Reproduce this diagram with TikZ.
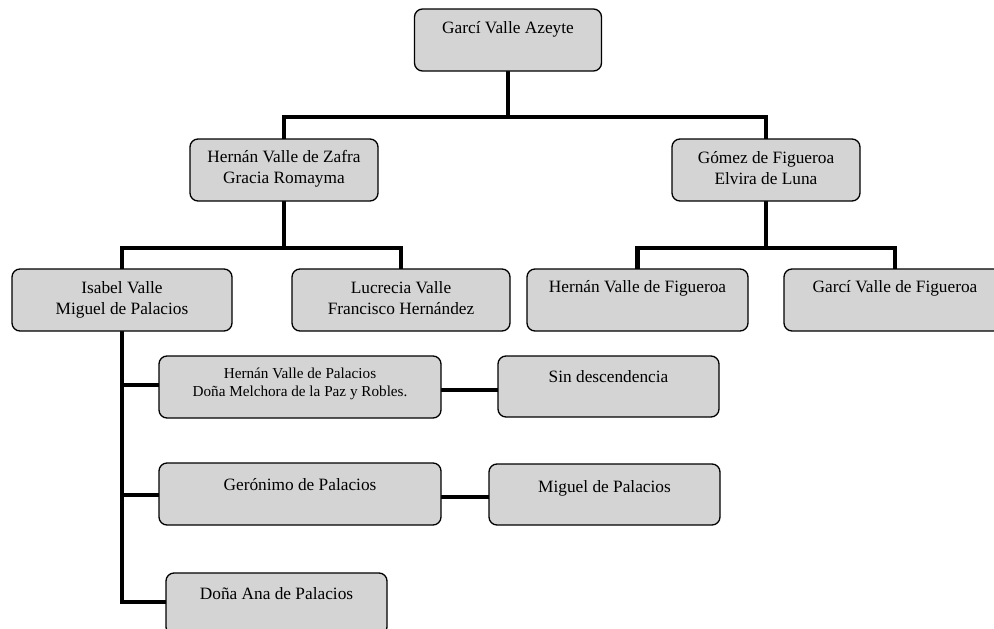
\documentclass[tikz,border=0pt]{standalone}
\usepackage{fontspec}
\setmainfont{Liberation Serif}
\usetikzlibrary{backgrounds}
\definecolor{boxgray}{HTML}{D4D4D4}
\tikzset{
  famBox/.style={draw=black, line width=1.3pt, fill=boxgray, rounded corners=8pt, inner sep=0pt, outer sep=0pt},
  famTxt/.style={anchor=north, inner sep=0pt, align=center, font=\fontsize{17.3}{20.8}\selectfont},
  famSmall/.style={anchor=north, inner sep=0pt, align=center, font=\fontsize{15.2}{18.3}\selectfont},
  link/.style={line width=4.5pt, line join=miter, line cap=rect}
}
\begin{document}
\begin{tikzpicture}[x=1pt, y=-1pt]
\useasboundingbox (0,0) rectangle (994,629);
% boxes
\node[famBox, minimum width=187pt, minimum height=62pt] (garci) at (508,40) {};
\node[famBox, minimum width=188pt, minimum height=62pt] (hvz) at (284,170) {};
\node[famBox, minimum width=188pt, minimum height=62pt] (gomez) at (766,170) {};
\node[famBox, minimum width=220pt, minimum height=62pt] (isabel) at (122,300) {};
\node[famBox, minimum width=218pt, minimum height=62pt] (lucrecia) at (401,300) {};
\node[famBox, minimum width=221pt, minimum height=62pt] (hvf) at (637.5,300) {};
\node[famBox, minimum width=222pt, minimum height=62pt] (gvf) at (895,300) {};
\node[famBox, minimum width=282pt, minimum height=62pt] (hvp) at (300,387) {};
\node[famBox, minimum width=221pt, minimum height=61pt] (sin) at (608.5,386.5) {};
\node[famBox, minimum width=282pt, minimum height=62pt] (geronimo) at (300,494) {};
\node[famBox, minimum width=231pt, minimum height=61pt] (miguel) at (604.5,494.5) {};
\node[famBox, minimum width=221pt, minimum height=62pt] (ana) at (276.5,604) {};
% texts
\node[famTxt] (garci-t) at ([yshift=-12pt]garci.north) {Garcí Valle Azeyte};
\node[famTxt] (hvz-t) at ([yshift=-11pt]hvz.north) {Hernán Valle de Zafra\\Gracia Romayma};
\node[famTxt] (gomez-t) at ([yshift=-12pt]gomez.north) {Gómez de Figueroa\\Elvira de Luna};
\node[famTxt] (isabel-t) at ([yshift=-12pt]isabel.north) {Isabel Valle\\Miguel de Palacios};
\node[famTxt] (lucrecia-t) at ([yshift=-12pt]lucrecia.north) {Lucrecia Valle\\Francisco Hernández};
\node[famTxt] (hvf-t) at ([yshift=-11pt]hvf.north) {Hernán Valle de Figueroa};
\node[famTxt] (gvf-t) at ([yshift=-11pt]gvf.north) {Garcí Valle de Figueroa};
\node[famSmall] (hvp-t) at ([yshift=-11.6pt]hvp.north) {Hernán Valle de Palacios\\Doña Melchora de la Paz y Robles.};
\node[famTxt] (sin-t) at ([yshift=-14pt]sin.north) {Sin descendencia};
\node[famTxt] (geronimo-t) at ([yshift=-15pt]geronimo.north) {Gerónimo de Palacios};
\node[famTxt] (miguel-t) at ([yshift=-16pt]miguel.north) {Miguel de Palacios};
\node[famTxt] (ana-t) at ([yshift=-14pt]ana.north) {Doña Ana de Palacios};
% connectors
\begin{scope}[on background layer]
\coordinate (j1) at (508,117);
\coordinate (j2) at (284,248);
\coordinate (j3) at (766,248);
\coordinate (t1) at (122,385);
\coordinate (t2) at (122,495);
\coordinate (t3) at (122,602);
\draw[link] (garci.south) -- (j1);
\draw[link] (hvz.north) |- (j1) -| (gomez.north);
\draw[link] (hvz.south) -- (j2);
\draw[link] (isabel.north) |- (j2) -| (lucrecia.north);
\draw[link] (gomez.south) -- (j3);
\draw[link] (hvf.north) |- (j3) -| (gvf.north);
\draw[link] (isabel.south) -- (t3) -- (t3 -| ana.west);
\draw[link] (t1) -- (t1 -| hvp.west);
\draw[link] (t2) -- (t2 -| geronimo.west);
\coordinate (c1) at ([yshift=-3pt]hvp.east);
\draw[link] (c1) -- (c1 -| sin.west);
\coordinate (c2) at ([yshift=-3pt]geronimo.east);
\draw[link] (c2) -- (c2 -| miguel.west);
\end{scope}
\end{tikzpicture}
\end{document}
